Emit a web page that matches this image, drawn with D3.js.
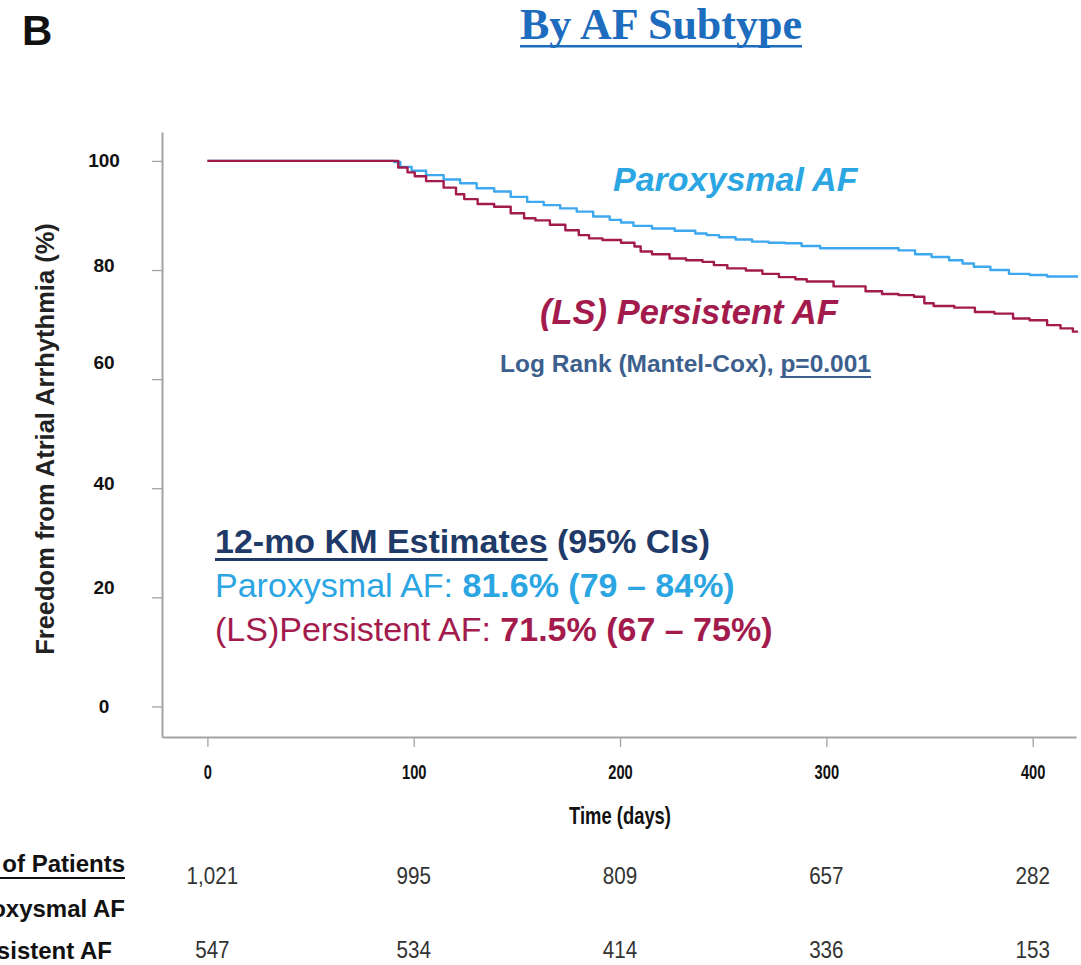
<!DOCTYPE html>
<html>
<head>
<meta charset="utf-8">
<script src="https://cdn.jsdelivr.net/npm/d3@7"></script>
<style>
  body { margin: 0; background: #fff; }
  svg { display: block; }
  text { white-space: pre; }
</style>
</head>
<body>
<svg id="chart" width="1081" height="965"></svg>
<script>
// ---- data -------------------------------------------------------------
const timeTicks = [0, 100, 200, 300, 400];
const survivalTicks = [0, 20, 40, 60, 80, 100];

// Kaplan-Meier freedom from atrial arrhythmia (%), by day
const paroxysmalDays = [0, 90, 91, 96, 102, 110, 119, 126, 135, 143, 151, 159, 167, 175, 183, 191, 199, 202, 211, 220,
  233, 240, 244, 252, 260, 268, 276, 284, 292, 302, 331, 339, 347, 355, 364, 368, 375, 384, 393, 404, 410, 422];
const paroxysmalFree = [100, 100, 99.8, 98.9, 98.2, 97.4, 96.6, 95.9, 95.0, 94.4, 93.4, 92.5, 91.9, 91.3, 90.7, 89.8, 89.2, 88.7, 88.1, 87.6,
  87.2, 86.7, 86.4, 86.0, 85.6, 85.2, 85.0, 84.9, 84.4, 84.0, 84.0, 83.6, 82.9, 82.4, 81.8, 81.2, 80.6, 80.0, 79.3, 79.1, 78.8, 78.8];

const persistentDays = [0, 90, 95, 99, 102, 110, 119, 122, 127, 135, 143, 151, 156, 162, 170, 177, 183, 187, 196, 205,
  209, 211, 220, 228, 236, 244, 247, 257, 265, 273, 281, 289, 292, 315, 323, 331, 339, 346, 349, 355, 369, 375, 388, 393, 404, 410, 417, 422];
const persistentFree = [100, 100, 98.8, 97.9, 97.2, 96.3, 95.1, 93.9, 93.0, 92.1, 91.6, 90.4, 89.5, 89.1, 88.3, 87.3, 86.4, 85.8, 85.5, 85.0,
  84.3, 83.4, 82.9, 82.1, 81.8, 81.5, 80.9, 80.3, 79.9, 79.3, 78.7, 78.3, 77.9, 77.0, 76.1, 75.6, 75.4, 75.1, 73.9, 73.4, 73.1, 72.3, 72.0, 71.1, 70.8, 69.9, 69.3, 68.7];

// 12-month KM estimates with 95% CIs
const kmGroups = ["Paroxysmal AF", "(LS)Persistent AF"];
const kmEstimate = [81.6, 71.5];
const kmLower = [79, 67];
const kmUpper = [84, 75];

// number of patients at risk at each time tick
const riskRowLabels = ["Paroxysmal AF", "Persistent AF"];
const atRiskParoxysmal = [1021, 995, 809, 657, 282];
const atRiskPersistent = [547, 534, 414, 336, 153];

const pValue = "0.001";

// ---- styles -----------------------------------------------------------
const SANS = "'Liberation Sans', Arial, Helvetica, sans-serif";
const SERIF = "'Liberation Serif', 'Times New Roman', serif";
const BLUE = "#2ba6e3";
const BLUE_LINE = "#3ea8ef";
const CRIMSON = "#a31b4d";
const NAVY = "#1f3a68";
const STEEL = "#3d5f8d";
const AXIS = "#a3a3a3";

const svg = d3.select("#chart");

// ---- scales -----------------------------------------------------------
const x = d3.scaleLinear().domain([-22, 421]).range([162, 1076]);
const y = d3.scaleLinear().domain([-5.6, 105.3]).range([737, 132]);

// small vertical nudges applied to the y tick labels
const yLabelNudge = { 0: 0, 20: -10, 40: -5, 60: -17, 80: -5, 100: 0 };

// ---- helper: a run of differently-styled text pieces ------------------
function textRuns(parent, px, py, parts, anchor) {
  const g = parent.append("g");
  let cx = 0;
  parts.forEach(p => {
    const t = g.append("text")
      .attr("x", cx).attr("y", 0)
      .style("font-family", p.family || SANS)
      .style("font-size", p.size + "px")
      .style("font-weight", p.weight || "normal")
      .style("font-style", p.italic ? "italic" : "normal")
      .attr("fill", p.color)
      .text(p.text);
    const w = t.node().getComputedTextLength();
    if (p.underline) {
      g.append("rect")
        .attr("x", cx).attr("y", p.underline.offset)
        .attr("width", w).attr("height", p.underline.width)
        .attr("fill", p.color);
    }
    cx += w;
  });
  const shift = anchor === "middle" ? -cx / 2 : anchor === "end" ? -cx : 0;
  g.attr("transform", `translate(${px + shift},${py})`);
  return g;
}

// ---- panel letter and title -------------------------------------------
svg.append("text")
  .attr("x", 22).attr("y", 45)
  .style("font-family", SANS).style("font-size", "42px").style("font-weight", "bold")
  .attr("fill", "#111").text("B");

textRuns(svg, 661, 39, [
  { text: "By AF Subtype", family: SERIF, size: 44, weight: "bold", color: "#1d6cbe",
    underline: { offset: 6, width: 2.5 } }
], "middle");

// ---- axes -------------------------------------------------------------
const yAxis = svg.append("g")
  .attr("transform", `translate(${x(-22)},0)`)
  .call(d3.axisLeft(y).tickValues(survivalTicks).tickSize(10).tickSizeOuter(0));
yAxis.select(".domain").attr("stroke", AXIS).attr("stroke-width", 2);
yAxis.selectAll(".tick line").attr("stroke", AXIS).attr("stroke-width", 1.3);
yAxis.selectAll(".tick text")
  .attr("x", -58)
  .attr("dy", d => (yLabelNudge[d] || 0) + 6)
  .attr("text-anchor", "middle")
  .style("font-family", SANS).style("font-size", "19px").style("font-weight", "bold")
  .attr("fill", "#111");

const xAxis = svg.append("g")
  .attr("transform", `translate(0,${y(-5.6)})`)
  .call(d3.axisBottom(x).tickValues(timeTicks).tickSize(10).tickSizeOuter(0));
xAxis.select(".domain").attr("stroke", AXIS).attr("stroke-width", 2);
xAxis.selectAll(".tick line").attr("stroke", AXIS).attr("stroke-width", 1.3);
xAxis.selectAll(".tick text")
  .attr("y", 27).attr("dy", "0.71em")
  .attr("transform", "scale(0.7,1)")
  .style("font-family", SANS).style("font-size", "21px").style("font-weight", "bold")
  .attr("fill", "#111");

svg.append("text")
  .attr("transform", `translate(${x(200)},824) scale(0.8,1)`)
  .attr("text-anchor", "middle")
  .style("font-family", SANS).style("font-size", "23px").style("font-weight", "bold")
  .attr("fill", "#111").text("Time (days)");

svg.append("text")
  .attr("transform", `translate(54,439) rotate(-90)`)
  .attr("text-anchor", "middle")
  .style("font-family", SANS).style("font-size", "25.5px").style("font-weight", "bold")
  .attr("fill", "#222").text("Freedom from Atrial Arrhythmia (%)");

// ---- survival curves --------------------------------------------------
const line = d3.line()
  .x(d => x(d.day))
  .y(d => y(d.free))
  .curve(d3.curveStep);

const paroxysmal = paroxysmalDays.map((d, i) => ({ day: d, free: paroxysmalFree[i] }));
const persistent = persistentDays.map((d, i) => ({ day: d, free: persistentFree[i] }));

svg.append("path").datum(paroxysmal)
  .attr("d", line).attr("fill", "none")
  .attr("stroke", BLUE_LINE).attr("stroke-width", 2.4).attr("stroke-linejoin", "round");
svg.append("path").datum(persistent)
  .attr("d", line).attr("fill", "none")
  .attr("stroke", CRIMSON).attr("stroke-width", 2.4).attr("stroke-linejoin", "round");

// ---- curve labels and test result -------------------------------------
textRuns(svg, 613, 191, [
  { text: "Paroxysmal AF", size: 34, weight: "bold", italic: true, color: BLUE }
]);
textRuns(svg, 540, 324, [
  { text: "(LS) Persistent AF", size: 34.5, weight: "bold", italic: true, color: CRIMSON }
]);
textRuns(svg, 500, 372, [
  { text: "Log Rank (Mantel-Cox), ", size: 24.5, weight: "bold", color: STEEL },
  { text: "p=" + pValue, size: 24.5, weight: "bold", color: STEEL, underline: { offset: 4, width: 2 } }
]);

// ---- 12-month estimates block -----------------------------------------
textRuns(svg, 215, 553, [
  { text: "12-mo KM Estimates", size: 34, weight: "bold", color: NAVY, underline: { offset: 5, width: 3 } },
  { text: " (95% CIs)", size: 34, weight: "bold", color: NAVY }
]);
const kmColors = [BLUE, CRIMSON];
kmGroups.forEach((g, i) => {
  textRuns(svg, 215, 597 + i * 44, [
    { text: g + ": ", size: 34, color: kmColors[i] },
    { text: `${kmEstimate[i].toFixed(1)}% (${kmLower[i]} \u2013 ${kmUpper[i]}%)`, size: 34, weight: "bold", color: kmColors[i] }
  ]);
});

// ---- number at risk table ---------------------------------------------
textRuns(svg, 125, 872, [
  { text: "No. of Patients", size: 24, weight: "bold", color: "#111", underline: { offset: 5, width: 2 } }
], "end");
textRuns(svg, 125, 917, [
  { text: riskRowLabels[0], size: 24, weight: "bold", color: "#111" }
], "end");
textRuns(svg, 112, 959, [
  { text: riskRowLabels[1], size: 24, weight: "bold", color: "#111" }
], "end");

const fmt = d3.format(",");
[atRiskParoxysmal, atRiskPersistent].forEach((row, r) => {
  svg.append("g").selectAll("text")
    .data(row)
    .join("text")
    .attr("transform", (d, i) => `translate(${x(timeTicks[i]) + (i === 0 ? 5 : 0)},${r === 0 ? 884 : 958}) scale(0.86,1)`)
    .attr("text-anchor", "middle")
    .style("font-family", SANS).style("font-size", "24px")
    .attr("fill", "#333")
    .text(d => fmt(d));
});
</script>
</body>
</html>
